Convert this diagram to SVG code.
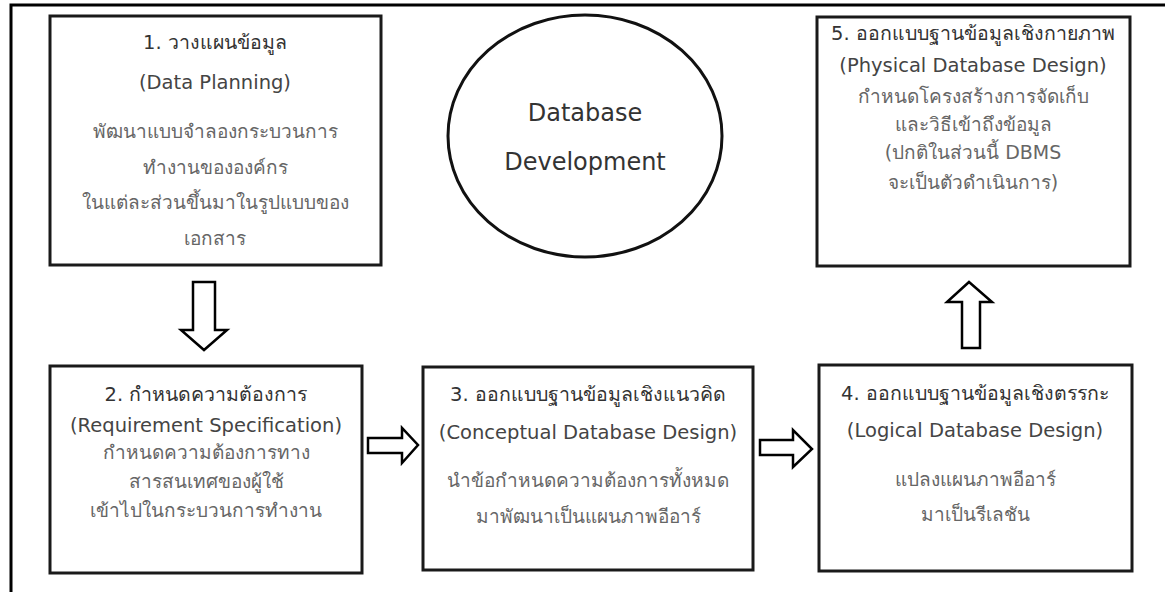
<svg xmlns="http://www.w3.org/2000/svg" width="1165" height="592" viewBox="0 0 1165 592">
<style>
.box{fill:#fff;stroke:#1a1a1a;stroke-width:3}
.frame{fill:none;stroke:#000;stroke-width:3}
.arr{fill:#fff;stroke:#000;stroke-width:2.5;stroke-linejoin:miter}
text{font-family:"DejaVu Sans","Noto Sans",sans-serif;text-anchor:middle}
.t{font-size:19.5px;fill:#333}
.e{font-size:19.5px;fill:#444}
.b{font-size:19px;fill:#666}
.c{font-size:24px;fill:#333}
</style>
<rect width="1165" height="592" fill="#fff"/>
<path class="frame" d="M11 592 V5 H1165"/>
<g id="connectors">
<path class="arr" d="M193 282 H215 V330 H227 L204 350 L181 330 H193 Z"/>
<path class="arr" d="M368 438 H402 V428 L418 445 L402 463 V453 H368 Z"/>
<path class="arr" d="M760 440 H793 V430 L812 449 L793 467 V455 H760 Z"/>
<path class="arr" d="M962 348 H980 V302 H992 L969 282 L947 302 H962 Z"/>
</g>
<g id="node1">
<rect class="box" x="50" y="16" width="331" height="249"/>
<text class="t" x="215" y="49">1. วางแผนข้อมูล</text>
<text class="e" x="215" y="89">(Data Planning)</text>
<text class="b" x="215" y="138">พัฒนาแบบจำลองกระบวนการ</text>
<text class="b" x="215" y="174">ทำงานขององค์กร</text>
<text class="b" x="215" y="209">ในแต่ละส่วนขึ้นมาในรูปแบบของ</text>
<text class="b" x="215" y="245">เอกสาร</text>
</g>
<g id="center">
<ellipse cx="585" cy="136" rx="137" ry="121" fill="#fff" stroke="#111" stroke-width="3"/>
<text class="c" x="585" y="121">Database</text>
<text class="c" x="585" y="170">Development</text>
</g>
<g id="node5">
<rect class="box" x="817" y="17" width="313" height="249"/>
<text class="t" x="973" y="40">5. ออกแบบฐานข้อมูลเชิงกายภาพ</text>
<text class="e" x="973" y="72">(Physical Database Design)</text>
<text class="b" x="973" y="103">กำหนดโครงสร้างการจัดเก็บ</text>
<text class="b" x="973" y="131">และวิธีเข้าถึงข้อมูล</text>
<text class="b" x="973" y="159">(ปกติในส่วนนี้ DBMS</text>
<text class="b" x="973" y="189">จะเป็นตัวดำเนินการ)</text>
</g>
<g id="node2">
<rect class="box" x="50" y="366" width="312" height="207"/>
<text class="t" x="206" y="401">2. กำหนดความต้องการ</text>
<text class="e" x="206" y="432">(Requirement Specification)</text>
<text class="b" x="206" y="459">กำหนดความต้องการทาง</text>
<text class="b" x="206" y="488">สารสนเทศของผู้ใช้</text>
<text class="b" x="206" y="517">เข้าไปในกระบวนการทำงาน</text>
</g>
<g id="node3">
<rect class="box" x="423" y="367" width="330" height="203"/>
<text class="t" x="588" y="401">3. ออกแบบฐานข้อมูลเชิงแนวคิด</text>
<text class="e" x="588" y="439">(Conceptual Database Design)</text>
<text class="b" x="588" y="487">นำข้อกำหนดความต้องการทั้งหมด</text>
<text class="b" x="588" y="523">มาพัฒนาเป็นแผนภาพอีอาร์</text>
</g>
<g id="node4">
<rect class="box" x="819" y="365" width="313" height="206"/>
<text class="t" x="975" y="400">4. ออกแบบฐานข้อมูลเชิงตรรกะ</text>
<text class="e" x="975" y="437">(Logical Database Design)</text>
<text class="b" x="975" y="486">แปลงแผนภาพอีอาร์</text>
<text class="b" x="975" y="521">มาเป็นรีเลชัน</text>
</g>
</svg>
